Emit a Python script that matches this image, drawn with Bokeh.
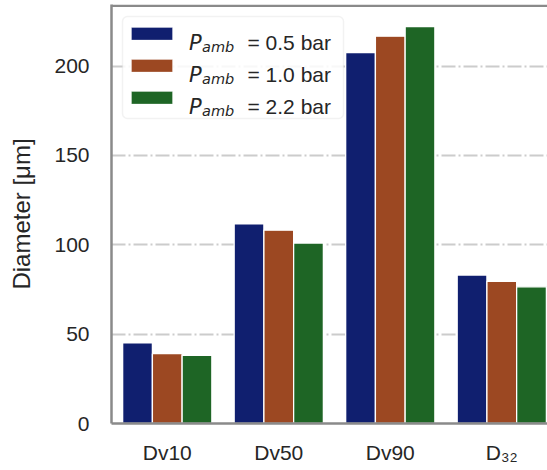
from bokeh.plotting import figure
from bokeh.models import FixedTicker, Span, BoxAnnotation, Label, ColumnDataSource, Range1d
from bokeh.transform import dodge
from bokeh.embed import file_html
from bokeh.resources import INLINE

# ---- data ----
categories = ["Dv10", "Dv50", "Dv90", "D₃₂"]
pressures = ["0.5", "1.0", "2.2"]
p05 = [45.1, 111.7, 207.6, 83.1]
p10 = [39.1, 108.2, 216.8, 79.5]
p22 = [38.2, 101.0, 222.2, 76.5]
y_ticks = [0, 50, 100, 150, 200]
colors = ["#101f6f", "#9c4822", "#1e6525"]

# ---- layout (pixels) ----
W, H = 547, 470
FL, FT, FW, FH = 111, 4, 436, 419
X0, X1 = -0.5, 3.41
Y0, Y1 = 0.0, 234.5

def dx(px):
    return X0 + (px - FL) / FW * (X1 - X0)

def dy(py):
    return Y1 - (py - FT) / FH * (Y1 - Y0)

TXT = "#262626"
SPINE = "#8a8a8a"
FS = 21
SUB = 14.5

src = ColumnDataSource(dict(x=list(range(len(categories))), p05=p05, p10=p10, p22=p22))

p = figure(frame_width=FW, frame_height=FH, min_border_left=FL, min_border_right=0,
           min_border_top=FT, min_border_bottom=H - FT - FH,
           x_range=Range1d(X0, X1), y_range=Range1d(Y0, Y1),
           output_backend="svg", toolbar_location=None)
p.outline_line_color = None
p.background_fill_color = "white"
p.border_fill_color = "white"

bw = 0.8 / 3
keys = ["p05", "p10", "p22"]
for i, (k, c) in enumerate(zip(keys, colors)):
    p.vbar(x=dodge("x", (i - 1) * bw, range=p.x_range), top=k, width=bw, source=src,
           fill_color=c, line_color="white", line_width=1.3)

# axes
p.xaxis.ticker = FixedTicker(ticks=list(range(len(categories))))
p.xaxis.major_label_overrides = {i: c for i, c in enumerate(categories)}
p.yaxis.ticker = FixedTicker(ticks=y_ticks)
for ax in (p.xaxis, p.yaxis):
    ax.major_tick_out = 0
    ax.major_tick_in = 0
    ax.minor_tick_out = 0
    ax.minor_tick_in = 0
    ax.axis_line_color = SPINE
    ax.axis_line_width = 2.5
    ax.major_label_text_font = "Liberation Sans"
    ax.major_label_text_font_size = f"{FS}px"
    ax.major_label_text_color = TXT
p.xaxis.major_label_standoff = 17
p.yaxis.major_label_standoff = 22

p.yaxis.axis_label = "Diameter [μm]"
p.yaxis.axis_label_text_font = "Liberation Sans"
p.yaxis.axis_label_text_font_style = "normal"
p.yaxis.axis_label_text_font_size = "24px"
p.yaxis.axis_label_text_color = TXT
p.yaxis.axis_label_standoff = 16

p.xgrid.grid_line_color = None
p.ygrid.ticker = FixedTicker(ticks=y_ticks)
p.ygrid.grid_line_color = "#cccccc"
p.ygrid.grid_line_width = 2
p.ygrid.grid_line_dash = "14 3 2 3"

# top spine
p.add_layout(Span(location=dy(5.3), dimension="width", line_color=SPINE, line_width=2.5))

# legend
p.add_layout(BoxAnnotation(left=dx(122), right=dx(343), top=dy(16), bottom=dy(118),
                           fill_color="white", fill_alpha=0.85, line_color="#d4d4d4",
                           line_width=1.5, border_radius=5))
for i, (pr, c) in enumerate(zip(pressures, colors)):
    oy = 32 * i
    p.add_layout(BoxAnnotation(left=dx(131), right=dx(172), top=dy(27 + oy), bottom=dy(39.5 + oy),
                               fill_color=c, fill_alpha=1, line_color="white", line_width=1))
    base = 42 + oy
    p.add_layout(Label(x=dx(188.5), y=dy(base), text="P", text_font="DejaVu Sans",
                       text_font_style="italic", text_font_size=f"{FS}px", text_color=TXT,
                       text_baseline="alphabetic", text_align="left"))
    p.add_layout(Label(x=dx(201.5), y=dy(base + 4), text="amb", text_font="DejaVu Sans",
                       text_font_style="italic", text_font_size=f"{SUB}px", text_color=TXT,
                       text_baseline="alphabetic", text_align="left"))
    p.add_layout(Label(x=dx(247), y=dy(base), text=f"= {pr} bar", text_font="Liberation Sans",
                       text_font_size=f"{FS}px", text_color=TXT,
                       text_baseline="alphabetic", text_align="left"))

open("out.html", "w").write(file_html(p, INLINE))
